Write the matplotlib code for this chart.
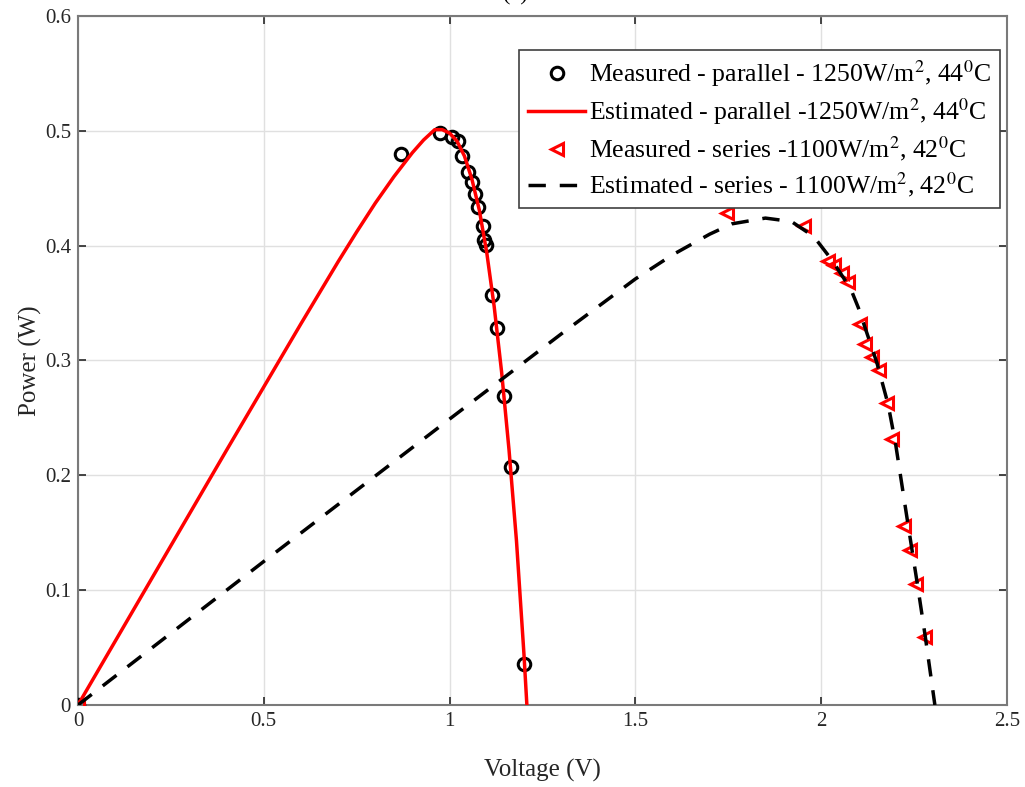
import matplotlib
matplotlib.use("Agg")
import matplotlib.pyplot as plt

plt.rcParams['font.family'] = ['Liberation Serif', 'DejaVu Serif']
plt.rcParams['mathtext.fontset'] = 'stix'

# measured points - parallel connection (V, W)
par_meas_v = [0.0, 0.869, 0.974, 1.006, 1.023, 1.033, 1.05, 1.06, 1.068, 1.076,
              1.09, 1.092, 1.097, 1.114, 1.127, 1.146, 1.165, 1.20]
par_meas_p = [0.0, 0.48, 0.498, 0.495, 0.491, 0.478, 0.464, 0.455, 0.445, 0.434,
              0.417, 0.405, 0.401, 0.357, 0.328, 0.269, 0.207, 0.036]

# estimated curve - parallel connection
par_est_v = [0.0, 0.1, 0.2, 0.3, 0.4, 0.5, 0.6, 0.7, 0.75, 0.8, 0.85, 0.9, 0.93,
             0.96, 0.98, 1.0, 1.02, 1.04, 1.06, 1.08, 1.1, 1.12, 1.14, 1.16,
             1.18, 1.20, 1.208]
par_est_p = [0.0, 0.0555, 0.111, 0.1665, 0.222, 0.277, 0.332, 0.386, 0.412, 0.437,
             0.46, 0.481, 0.492, 0.501, 0.501, 0.498, 0.491, 0.478, 0.458, 0.431,
             0.394, 0.347, 0.29, 0.222, 0.143, 0.045, 0.0]

# measured points - series connection
ser_meas_v = [0.0, 1.746, 1.954, 2.018, 2.035, 2.056, 2.072, 2.104, 2.118, 2.137,
              2.155, 2.177, 2.19, 2.222, 2.239, 2.255, 2.279]
ser_meas_p = [0.0, 0.428, 0.417, 0.387, 0.383, 0.376, 0.368, 0.332, 0.314, 0.303,
              0.292, 0.263, 0.232, 0.156, 0.135, 0.105, 0.059]

# estimated curve - series connection
ser_est_v = [0.0, 0.5, 1.0, 1.3, 1.5, 1.6, 1.7, 1.76, 1.85, 1.92, 1.98, 2.03, 2.08,
             2.1, 2.15, 2.18, 2.2, 2.23, 2.26, 2.28, 2.306]
ser_est_p = [0.0, 0.125, 0.249, 0.323, 0.371, 0.392, 0.41, 0.419, 0.424, 0.421,
             0.408, 0.387, 0.362, 0.346, 0.298, 0.262, 0.228, 0.165, 0.103, 0.06, 0.0]

x_ticks = [0, 0.5, 1, 1.5, 2, 2.5]
y_ticks = [0, 0.1, 0.2, 0.3, 0.4, 0.5, 0.6]

fig = plt.figure(figsize=(10.25, 7.87), dpi=100)
ax = fig.add_axes([0.0761, 0.1042, 0.9063, 0.8755])

ax.plot(par_meas_v, par_meas_p, 'o', mfc='none', mec='black', mew=2.2, ms=9,
        label='Measured - parallel - 1250W/m$^2$, 44$^0$C', zorder=3)
ax.plot(par_est_v, par_est_p, '-', color='red', lw=2.5,
        label='Estimated - parallel -1250W/m$^2$, 44$^0$C', zorder=4)
ax.plot(ser_meas_v, ser_meas_p, '<', mfc='none', mec='red', mew=2.2, ms=9,
        label='Measured - series -1100W/m$^2$, 42$^0$C', zorder=3)
ax.plot(ser_est_v, ser_est_p, '--', color='black', lw=2.5, dashes=(5, 4),
        label='Estimated - series - 1100W/m$^2$, 42$^0$C', zorder=4)

ax.set_xlim(0, 2.5)
ax.set_ylim(0, 0.6)
ax.set_xticks(x_ticks)
ax.set_xticklabels(['0', '0.5', '1', '1.5', '2', '2.5'])
ax.set_yticks(y_ticks)
ax.set_yticklabels(['0', '0.1', '0.2', '0.3', '0.4', '0.5', '0.6'])
ax.tick_params(direction='in', top=True, right=True, labelsize=15,
               colors='#262626', length=6, width=1.2, pad=5)
ax.grid(True, color='#e0e0e0', lw=1)
ax.set_axisbelow(True)
for s in ax.spines.values():
    s.set_color('#7a7a7a')
    s.set_linewidth(1.5)

ax.set_xlabel('Voltage (V)', fontsize=18, color='#262626', labelpad=20)
ax.set_ylabel('Power (W)', fontsize=18, color='#262626', labelpad=2)

leg = ax.legend(loc='upper right', bbox_to_anchor=(0.9925, 0.951), fontsize=18.5,
                frameon=True, fancybox=False, edgecolor='#404040', framealpha=1,
                handlelength=2.2, handletextpad=0.15, borderpad=0.35,
                labelspacing=0.28, borderaxespad=0)
leg.get_frame().set_linewidth(1.2)

fig.text(0.5025, 1.0, '(a)', ha='center', va='baseline', fontsize=16)

fig.savefig('out.png', dpi=100)
